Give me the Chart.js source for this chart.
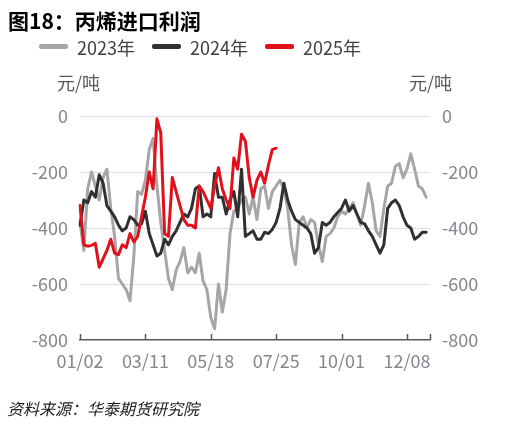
<!DOCTYPE html>
<html><head><meta charset="utf-8">
<script src="https://cdn.jsdelivr.net/npm/chart.js@4"></script>
<style>
html,body{margin:0;padding:0;background:#fff;width:519px;height:426px;overflow:hidden;font-family:"Noto Sans CJK SC","Noto Sans",sans-serif;}
#wrap{position:relative;width:519px;height:426px;}
canvas{position:absolute;left:0;top:0;}
.t{position:absolute;white-space:nowrap;line-height:1;}
.sw{position:absolute;height:5px;border-radius:2px;}
</style></head><body>
<div id="wrap">
<canvas id="c" width="519" height="426"></canvas>
<div class="t" style="left:8px;top:10px;font-size:21px;font-weight:bold;color:#000;">图18：丙烯进口利润</div>
<div id="legend"></div>
<div class="t" style="left:57px;top:73px;font-size:18px;color:#595959">元/吨</div>
<div class="t" style="left:409px;top:73px;font-size:18px;color:#595959">元/吨</div>
<div class="t" style="left:7px;top:400px;font-size:16px;font-style:italic;color:#1a1a1a">资料来源：华泰期货研究院</div>
</div>
<script>
// ---- data ----
const seriesNames = ['2023年', '2024年', '2025年'];
const seriesColors = ['#a6a6a9', '#303030', '#e1101b'];
const tickLabels = ['01/02', '03/11', '05/18', '07/25', '10/01', '12/08'];
const yTicks = [0, -200, -400, -600, -800];

// categories: every 4 days starting 01/02
const categories = [];
(function () {
  const start = Date.UTC(2023, 0, 2);
  for (let i = 0; i < 92; i++) {
    const d = new Date(start + i * 4 * 86400000);
    categories.push(String(d.getUTCMonth() + 1).padStart(2, '0') + '/' + String(d.getUTCDate()).padStart(2, '0'));
  }
})();

const values2023 = [
  -380,-480,-260,-200,-250,-300,-220,-190,-330,-430,
  -580,-600,-620,-660,-500,-270,-280,-230,-120,-80,
  -250,-380,-480,-580,-620,-550,-520,-470,-560,-540,
  -560,-490,-590,-620,-720,-760,-600,-700,-620,-420,
  -340,-330,-300,-290,-350,-290,-370,-260,-250,-330,
  -270,-250,-230,-260,-330,-460,-530,-380,-360,-400,
  -370,-380,-460,-520,-430,-420,-400,-360,-340,-350,
  -330,-310,-350,-390,-320,-240,-310,-410,-430,-330,
  -250,-240,-180,-170,-220,-190,-135,-190,-250,-260,
  -290
];
const values2024 = [
  -390,-300,-310,-270,-290,-210,-240,-320,-340,-360,
  -390,-410,-400,-360,-370,-390,-385,-340,-420,-460,
  -500,-490,-440,-460,-430,-410,-380,-350,-360,-330,
  -260,-250,-360,-350,-360,-205,-290,-290,-350,-300,
  -270,-360,-190,-430,-420,-410,-440,-440,-415,-420,
  -405,-380,-330,-240,-300,-340,-370,-380,-390,-400,
  -420,-490,-470,-380,-390,-380,-360,-345,-330,-300,
  -340,-320,-350,-380,-385,-410,-430,-460,-490,-460,
  -330,-310,-300,-320,-360,-390,-400,-440,-430,-415,
  -415
];
const values2025 = [
  -320,-460,-465,-462,-455,-540,-510,-480,-440,-490,
  -495,-460,-470,-420,-450,-430,-360,-290,-200,-260,
  -10,-60,-420,-430,-220,-270,-320,-370,-390,-390,
  -400,-250,-270,-300,-330,-250,-185,-260,-300,-330,
  -150,-190,-65,-90,-220,-290,-230,-200,-240,-175,
  -120,-115
];
const allValues = [values2023, values2024, values2025];

// ---- legend (HTML) ----
const legendEl = document.getElementById('legend');
const swX = [39, 152, 265];
seriesNames.forEach((n, k) => {
  const s = document.createElement('div');
  s.className = 'sw';
  s.style.left = swX[k] + 'px'; s.style.top = '44px'; s.style.width = '29px';
  s.style.background = seriesColors[k];
  legendEl.appendChild(s);
  const t = document.createElement('div');
  t.className = 't';
  t.style.left = (swX[k] + 38) + 'px'; t.style.top = '38px';
  t.style.fontSize = '18px'; t.style.color = '#404040';
  t.textContent = n;
  legendEl.appendChild(t);
});

// ---- chart ----
Chart.defaults.font.family = '"Noto Sans CJK SC","Noto Sans",sans-serif';
const tickColor = '#86868f';

const tickMarks = {
  id: 'tickMarks',
  afterDraw(chart) {
    const xs = chart.scales.x, b = chart.chartArea.bottom, ctx = chart.ctx;
    const idx = [];
    categories.forEach((l, i) => { if (tickLabels.includes(l)) idx.push(i); });
    idx.push(categories.length - 1);
    ctx.save();
    ctx.strokeStyle = '#595959';
    ctx.lineWidth = 1.5;
    idx.forEach(i => {
      const px = Math.round(xs.getPixelForValue(i)) + 0.5;
      ctx.beginPath(); ctx.moveTo(px, b); ctx.lineTo(px, b - 6); ctx.stroke();
    });
    ctx.restore();
  }
};

const orders = [3, 2, 1];
new Chart(document.getElementById('c'), {
  type: 'line',
  data: {
    labels: categories,
    datasets: allValues.map((v, k) => ({
      label: seriesNames[k],
      data: v,
      borderColor: seriesColors[k],
      backgroundColor: seriesColors[k],
      borderWidth: 3,
      pointRadius: 0,
      tension: 0,
      borderJoinStyle: 'round',
      borderCapStyle: 'round',
      order: orders[k],
      yAxisID: 'y'
    }))
  },
  options: {
    responsive: false,
    animation: false,
    layout: { padding: { top: 116, left: 0, right: 0, bottom: 0 } },
    plugins: { legend: { display: false }, tooltip: { enabled: false } },
    scales: {
      x: {
        type: 'category',
        grid: { display: false },
        border: { display: true, color: '#595959', width: 1.5 },
        ticks: {
          autoSkip: false, maxRotation: 0, minRotation: 0, padding: 2,
          color: tickColor, font: { size: 18 },
          callback: function (v, i) { return tickLabels.includes(categories[i]) ? categories[i] : ''; }
        },
        afterFit(s) { s.height = 86; }
      },
      y: {
        position: 'left', min: yTicks[yTicks.length - 1], max: yTicks[0],
        ticks: { stepSize: 200, color: tickColor, padding: 12, font: { size: 18 } },
        grid: {
          drawTicks: false, lineWidth: 1,
          color: c => (c.tick && c.tick.value === -800) ? 'rgba(0,0,0,0)' : '#dadeea'
        },
        border: { display: false },
        afterFit(s) { s.width = 80; }
      },
      y2: {
        position: 'right', min: yTicks[yTicks.length - 1], max: yTicks[0],
        ticks: { stepSize: 200, color: tickColor, padding: 12, font: { size: 18 } },
        grid: { display: false, drawTicks: false },
        border: { display: false },
        afterFit(s) { s.width = 89; }
      }
    }
  },
  plugins: [tickMarks]
});
</script>
</body></html>
